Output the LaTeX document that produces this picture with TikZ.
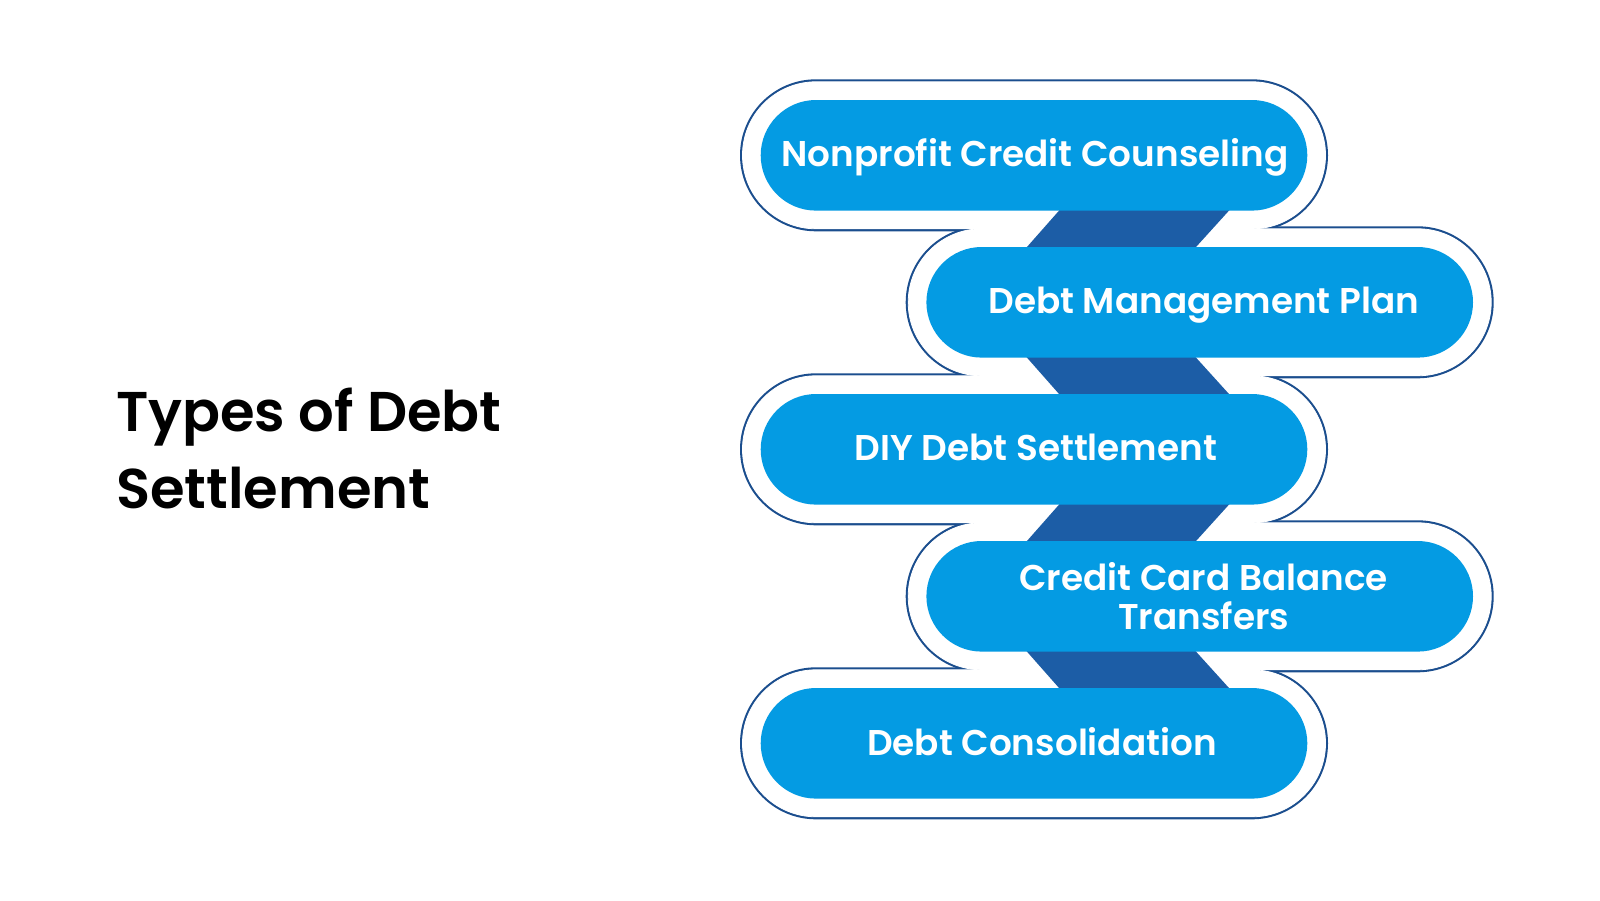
\documentclass[tikz,border=0pt]{standalone}
\usepackage{fontspec}
\setmainfont{Poppins}[BoldFont={Poppins SemiBold}]
\usetikzlibrary{shapes.misc,calc}
\definecolor{pillblue}{HTML}{049BE3}
\definecolor{linkblue}{HTML}{1C5DA6}
\definecolor{rimblue}{HTML}{1B4E8E}
\begin{document}
\begin{tikzpicture}[x=1pt,y=-1pt,
  rim/.style={rounded rectangle, minimum width=583pt, minimum height=147pt, inner sep=0pt, outer sep=0pt, draw=rimblue, line width=5pt},
  rimfill/.style={rounded rectangle, minimum width=583pt, minimum height=147pt, inner sep=0pt, outer sep=0pt, fill=white, draw=white, line width=0.8pt},
  pill/.style={rounded rectangle, minimum width=546.6pt, minimum height=110.6pt, inner sep=0pt, outer sep=0pt, fill=pillblue},
  lab/.style={text=white, font=\bfseries\fontsize{35.8}{38.4}\selectfont, align=center, inner sep=0pt},
  link/.style={fill=linkblue},
  title/.style={font=\bfseries\fontsize{56}{77}\selectfont, align=left, inner sep=0pt, anchor=west}]
\useasboundingbox (0,0) rectangle (1600,900);
\fill[white] (0,0) rectangle (1600,900);
% centres of the pills
\coordinate (c1) at (1034,155.3);
\coordinate (c2) at (1199.7,302.3);
\coordinate (c3) at (1034,449.3);
\coordinate (c4) at (1199.7,596.3);
\coordinate (c5) at (1034,743.3);
% outer rims: stroke pass
\node[rim] (o1) at (c1) {};
\node[rim] (o2) at (c2) {};
\node[rim] (o3) at (c3) {};
\node[rim] (o4) at (c4) {};
\node[rim] (o5) at (c5) {};
% outer rims: white fill pass (leaves only the outline of the union)
\node[rimfill] (w1) at (c1) {};
\node[rimfill] (w2) at (c2) {};
\node[rimfill] (w3) at (c3) {};
\node[rimfill] (w4) at (c4) {};
\node[rimfill] (w5) at (c5) {};
% links between pills
\fill[link] ($(c1)+(27.7,52.3)$) -- ($(c1)+(197.7,52.3)$) -- ($(c2)+(-6.4,-52.3)$) -- ($(c2)+(-175.4,-52.3)$) -- cycle;
\fill[link] ($(c2)+(-175.4,52.3)$) -- ($(c2)+(-6.4,52.3)$) -- ($(c3)+(197.7,-52.3)$) -- ($(c3)+(27.7,-52.3)$) -- cycle;
\fill[link] ($(c3)+(27.7,52.3)$) -- ($(c3)+(197.7,52.3)$) -- ($(c4)+(-6.4,-52.3)$) -- ($(c4)+(-175.4,-52.3)$) -- cycle;
\fill[link] ($(c4)+(-175.4,52.3)$) -- ($(c4)+(-6.4,52.3)$) -- ($(c5)+(197.7,-52.3)$) -- ($(c5)+(27.7,-52.3)$) -- cycle;
% inner pills
\node[pill] (p1) at (c1) {};
\node[pill] (p2) at (c2) {};
\node[pill] (p3) at (c3) {};
\node[pill] (p4) at (c4) {};
\node[pill] (p5) at (c5) {};
% labels
\node[lab, anchor=base] (l1) at ($(c1)+(1,11)$) {Nonprofit Credit Counseling};
\node[lab, anchor=base] (l2) at ($(c2)+(4,11)$) {Debt Management Plan};
\node[lab, anchor=base] (l3) at ($(c3)+(2,11)$) {DIY Debt Settlement};
\node[lab] (l4) at ($(c4)+(4,0)$) {Credit Card Balance\\Transfers};
\node[lab, anchor=base] (l5) at ($(c5)+(8,12)$) {Debt Consolidation};
% title
\node[title] (t) at (116,448) {Types of Debt\\Settlement};
\end{tikzpicture}
\end{document}
